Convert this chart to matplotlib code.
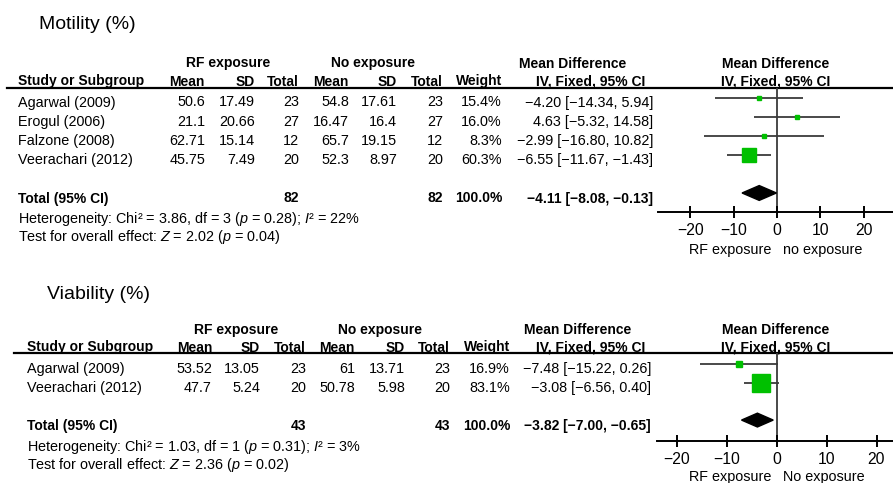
import matplotlib
matplotlib.use("Agg")
import matplotlib.pyplot as plt

plt.rcParams["font.family"] = ["Liberation Sans", "DejaVu Sans"]
plt.rcParams["mathtext.fontset"] = "custom"
plt.rcParams["mathtext.rm"] = "Liberation Sans"
plt.rcParams["mathtext.it"] = "Liberation Sans:italic"

# ----------------------------------------------------------------------
# Data: motility
# ----------------------------------------------------------------------
mot_studies = ["Agarwal (2009)", "Erogul (2006)", "Falzone (2008)", "Veerachari (2012)"]
mot_rf_mean = [50.6, 21.1, 62.71, 45.75]
mot_rf_sd = [17.49, 20.66, 15.14, 7.49]
mot_rf_n = [23, 27, 12, 20]
mot_no_mean = [54.8, 16.47, 65.7, 52.3]
mot_no_sd = [17.61, 16.4, 19.15, 8.97]
mot_no_n = [23, 27, 12, 20]
mot_weight = [15.4, 16.0, 8.3, 60.3]
mot_md = [-4.20, 4.63, -2.99, -6.55]
mot_lo = [-14.34, -5.32, -16.80, -11.67]
mot_hi = [5.94, 14.58, 10.82, -1.43]
mot_total = (-4.11, -8.08, -0.13)
mot_het = "Heterogeneity: Chi² = 3.86, df = 3 ($p$ = 0.28); $I$² = 22%"
mot_test = "Test for overall effect: $Z$ = 2.02 ($p$ = 0.04)"

# ----------------------------------------------------------------------
# Data: viability
# ----------------------------------------------------------------------
via_studies = ["Agarwal (2009)", "Veerachari (2012)"]
via_rf_mean = [53.52, 47.7]
via_rf_sd = [13.05, 5.24]
via_rf_n = [23, 20]
via_no_mean = [61, 50.78]
via_no_sd = [13.71, 5.98]
via_no_n = [23, 20]
via_weight = [16.9, 83.1]
via_md = [-7.48, -3.08]
via_lo = [-15.22, -6.56]
via_hi = [0.26, 0.40]
via_total = (-3.82, -7.00, -0.65)
via_het = "Heterogeneity: Chi² = 1.03, df = 1 ($p$ = 0.31); $I$² = 3%"
via_test = "Test for overall effect: $Z$ = 2.36 ($p$ = 0.02)"

ticks = [-20, -10, 0, 10, 20]

W, H = 893, 483
GREEN = "#00C000"
LINE = "#3a3a3a"
FS = 10.4     # regular table text
FSB = 10      # bold header text

fig = plt.figure(figsize=(W / 100, H / 100), dpi=100)
bg = fig.add_axes([0, 0, 1, 1])
bg.set_xlim(0, W)
bg.set_ylim(H, 0)
bg.axis("off")


def m(v):
    return v.replace("-", "\u2212")


def fmt_md(md, lo, hi):
    return m(f"{md:.2f} [{lo:.2f}, {hi:.2f}]")


def txt(x, y, s, ha="left", bold=False, size=None):
    if size is None:
        size = FSB if bold else FS
    bg.text(x, y, s, ha=ha, va="baseline", fontsize=size,
            fontweight="bold" if bold else "normal")


def panel(p):
    # title
    txt(p["title_x"], p["title_y"], p["title"], size=14)
    cx = p["cols"]
    h1, h2 = p["h1"], p["h2"]
    txt(p["rf_c"], h1, "RF exposure", ha="center", bold=True)
    txt(p["no_c"], h1, "No exposure", ha="center", bold=True)
    txt(p["md_c"], h1, "Mean Difference", ha="center", bold=True)
    txt(p["fp_c"], h1, "Mean Difference", ha="center", bold=True)
    txt(p["study_x"], h2, "Study or Subgroup", bold=True)
    for x, s in zip(cx, ["Mean", "SD", "Total", "Mean", "SD", "Total", "Weight"]):
        txt(x, h2, s, ha="right", bold=True)
    txt(p["md_hdr_r"], h2, "IV, Fixed, 95% CI", ha="right", bold=True)
    txt(p["fp_c"], h2, "IV, Fixed, 95% CI", ha="center", bold=True)
    bg.plot([p["line_x0"], W], [p["line_y"], p["line_y"]], color="black", lw=1.6)

    for i, st in enumerate(p["studies"]):
        y = p["row0"] + i * p["dy"]
        txt(p["study_x"], y, st)
        vals = [f"{p['rf_mean'][i]:g}", f"{p['rf_sd'][i]:g}", str(p["rf_n"][i]),
                f"{p['no_mean'][i]:g}", f"{p['no_sd'][i]:g}", str(p["no_n"][i]),
                f"{p['weight'][i]:.1f}%"]
        for x, s in zip(cx, vals):
            txt(x, y, s, ha="right")
        txt(p["md_r"], y, fmt_md(p["md"][i], p["lo"][i], p["hi"][i]), ha="right")

    ty = p["total_y"]
    txt(p["study_x"], ty, "Total (95% CI)", bold=True)
    txt(cx[2], ty, str(sum(p["rf_n"])), ha="right", bold=True)
    txt(cx[5], ty, str(sum(p["no_n"])), ha="right", bold=True)
    txt(cx[6], ty, "100.0%", ha="right", bold=True)
    txt(p["md_r"], ty, fmt_md(*p["total"]), ha="right", bold=True)
    txt(p["study_x"], p["het_y"], p["het"])
    txt(p["study_x"], p["test_y"], p["test"])

    # forest plot axes, placed in pixel coordinates
    x0, x1, y0, y1 = p["ax_px"]
    ax = fig.add_axes([x0 / W, 1 - y1 / H, (x1 - x0) / W, (y1 - y0) / H])
    ax.patch.set_alpha(0)
    ax.set_xlim(p["xlim"])
    ax.set_ylim(p["ylim"])
    for s in ["top", "left", "right"]:
        ax.spines[s].set_visible(False)
    ax.spines["bottom"].set_linewidth(1.4)
    ax.set_yticks([])
    ax.set_xticks(ticks)
    ax.tick_params(axis="x", direction="inout", length=9, width=1.4,
                   labelsize=11.3, pad=3.5)
    ax.axvline(0, color=LINE, lw=1.3, zorder=1)
    rows = list(range(len(p["studies"])))
    ax.hlines(rows, p["lo"], p["hi"], color=LINE, lw=1.3, zorder=2)
    for r, md, w in zip(rows, p["md"], p["weight"]):
        side = (1.5 + 0.21 * w) * 0.72
        ax.plot(md, r, "s", ms=side, color=GREEN, mec=GREEN, zorder=3)
    tr = p["total_row"]
    md, lo, hi = p["total"]
    hh = p["dia_h"]
    ax.fill([lo, md, hi, md], [tr, tr - hh, tr, tr + hh], color="black", zorder=3)
    txt(p["lab_r"], p["lab_y"], "RF exposure", ha="right")
    txt(p["lab_l"], p["lab_y"], p["lab_right_text"])


panel(dict(
    title="Motility (%)", title_x=39, title_y=29,
    studies=mot_studies, rf_mean=mot_rf_mean, rf_sd=mot_rf_sd, rf_n=mot_rf_n,
    no_mean=mot_no_mean, no_sd=mot_no_sd, no_n=mot_no_n, weight=mot_weight,
    md=mot_md, lo=mot_lo, hi=mot_hi, total=mot_total, het=mot_het, test=mot_test,
    cols=[205, 255, 299, 349, 397, 443, 502],
    rf_c=228, no_c=373, md_c=573, fp_c=776, md_hdr_r=645, md_r=653,
    study_x=18, h1=67.5, h2=85.5, line_x0=7, line_y=87.8,
    row0=106.5, dy=19.1, total_y=202.5, het_y=223, test_y=241.5,
    ax_px=(658, 893, 87.8, 212), xlim=(-27.5, 26.8), ylim=(6.0, -0.53),
    total_row=5, dia_h=0.39,
    lab_r=771, lab_l=783, lab_y=254, lab_right_text="no exposure",
))

panel(dict(
    title="Viability (%)", title_x=47, title_y=299,
    studies=via_studies, rf_mean=via_rf_mean, rf_sd=via_rf_sd, rf_n=via_rf_n,
    no_mean=via_no_mean, no_sd=via_no_sd, no_n=via_no_n, weight=via_weight,
    md=via_md, lo=via_lo, hi=via_hi, total=via_total, het=via_het, test=via_test,
    cols=[212, 260, 306, 355, 405, 450, 510],
    rf_c=236, no_c=380, md_c=578, fp_c=776, md_hdr_r=645, md_r=651,
    study_x=27, h1=334, h2=351.5, line_x0=14, line_y=353,
    row0=373, dy=19, total_y=430, het_y=450.5, test_y=469,
    ax_px=(657, 893, 353, 441), xlim=(-23.9, 23.3), ylim=(4.12, -0.59),
    total_row=3, dia_h=0.37,
    lab_r=771, lab_l=783, lab_y=481, lab_right_text="No exposure",
))

fig.savefig("out.png", dpi=100)
